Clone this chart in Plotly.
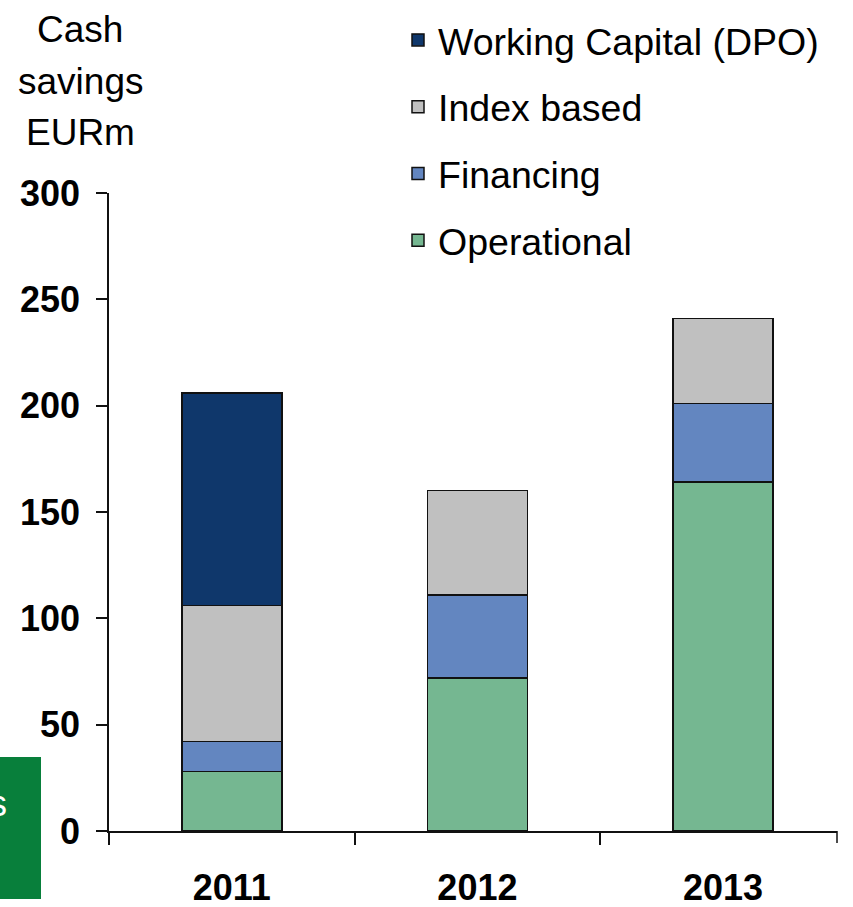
import plotly.graph_objects as go

years = ["2011", "2012", "2013"]
operational = [28, 72, 164]
financing = [14, 39, 37]
index_based = [64, 49, 40]
working_capital = [100, None, None]

series_names = ["Operational", "Financing", "Index based", "Working Capital (DPO)"]
series_values = [operational, financing, index_based, working_capital]
series_colors = ["#75b791", "#6386c0", "#c0c0c0", "#0f376b"]
legend_ranks = [4, 3, 2, 1]

y_ticks = [0, 50, 100, 150, 200, 250, 300]

W, H = 853, 907
L, R, T, B = 109, 16, 193, 76
PW, PH = W - L - R, H - T - B

def px_x(x):
    return (x - L) / PW

def px_y(y):
    return (H - B - y) / PH

fig = go.Figure()
for i, (name, vals, col, rk) in enumerate(zip(series_names, series_values, series_colors, legend_ranks)):
    fig.add_trace(go.Bar(
        x=years, y=vals, name=name, legendgroup=f"g{i}", legendrank=rk,
        marker=dict(color=col, line=dict(color="#111111", width=1.5)),
    ))

fig.update_layout(
    width=W, height=H, autosize=False,
    margin=dict(l=L, r=R, t=T, b=B, pad=0, autoexpand=False),
    paper_bgcolor="white", plot_bgcolor="white",
    barmode="stack", bargap=0.593,
    font=dict(family="Liberation Sans, Arial, sans-serif", color="black"),
    showlegend=True,
    legend=dict(
        traceorder="grouped", tracegroupgap=15,
        x=px_x(398), xanchor="left", y=px_y(9), yanchor="top",
        font=dict(size=37.5, color="black"), bgcolor="rgba(0,0,0,0)",
        borderwidth=0, itemclick=False,
    ),
    xaxis=dict(
        type="category", range=[-0.5, 2.464], showline=True, linecolor="#111111", linewidth=1.5,
        ticks="outside", tickson="boundaries", ticklen=12, tickwidth=1.5, tickcolor="#111111",
        tickfont=dict(size=36, family="Liberation Sans, Arial, sans-serif", color="black", weight="bold"),
        ticklabelstandoff=24, showgrid=False, zeroline=False, fixedrange=True, automargin=False,
    ),
    yaxis=dict(
        range=[0, 300], tickvals=y_ticks, showline=True, linecolor="#111111", linewidth=1.5,
        ticks="outside", ticklen=11, tickwidth=1.5, tickcolor="#111111",
        tickfont=dict(size=36, family="Liberation Sans, Arial, sans-serif", color="black", weight="bold"),
        ticklabelstandoff=9, showgrid=False, zeroline=False, fixedrange=True, automargin=False,
    ),
)

# closing tick at right end of the category axis
fig.add_shape(type="line", xref="paper", yref="paper", x0=1, x1=1,
              y0=0, y1=px_y(H - B + 12), line=dict(color="#111111", width=1.5))

# y-axis title (three lines)
for txt, yc in [("Cash", 30), ("savings", 82), ("EURm", 133)]:
    fig.add_annotation(text=txt, xref="paper", yref="paper", x=px_x(80), y=px_y(yc),
                       xanchor="center", yanchor="middle", showarrow=False,
                       font=dict(size=37, color="black"))

# partially visible green box at lower left
fig.add_shape(type="rect", xref="paper", yref="paper",
              x0=px_x(-5), x1=px_x(41), y0=px_y(899), y1=px_y(757),
              fillcolor="#087f3b", line=dict(width=0), layer="above")
fig.add_annotation(text="s", xref="paper", yref="paper", x=px_x(9), y=px_y(803),
                   xanchor="right", yanchor="middle", showarrow=False,
                   font=dict(size=36, color="white"))

fig.write_html("out.html", config={"displayModeBar": False},
               post_script="document.body.style.margin='0';document.body.style.overflow='hidden';")
